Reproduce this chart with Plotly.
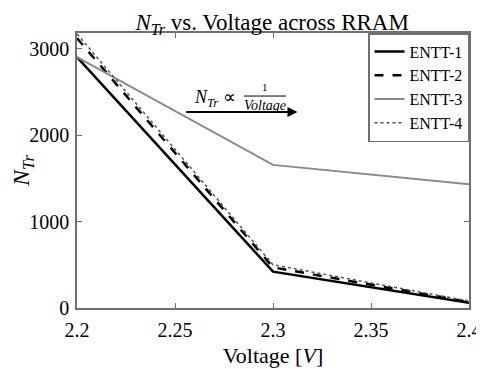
import plotly.graph_objects as go

voltage = [2.2, 2.3, 2.4]
entt1 = [2900, 420, 60]
entt2 = [3120, 470, 70]
entt3 = [2900, 1655, 1430]
entt4 = [3170, 500, 80]
x_ticks = [2.2, 2.25, 2.3, 2.35, 2.4]
x_tick_labels = ["2.2", "2.25", "2.3", "2.35", "2.4"]
y_ticks = [0, 1000, 2000, 3000]

FONT = "Liberation Serif"

fig = go.Figure()
fig.add_trace(go.Scatter(x=voltage, y=entt1, mode="lines", name="ENTT-1",
                         line=dict(color="black", width=2.5)))
fig.add_trace(go.Scatter(x=voltage, y=entt2, mode="lines", name="ENTT-2",
                         line=dict(color="black", width=2.5, dash="dash")))
fig.add_trace(go.Scatter(x=voltage, y=entt3, mode="lines", name="ENTT-3",
                         line=dict(color="#8a8a8a", width=2)))
fig.add_trace(go.Scatter(x=voltage, y=entt4, mode="lines", name="ENTT-4",
                         line=dict(color="#555555", width=1.5, dash="dot")))

axis_common = dict(showline=True, linecolor="#707070", linewidth=1.5, mirror="allticks",
                   ticks="inside", ticklen=5, tickcolor="#707070", showgrid=False,
                   zeroline=False, ticklabeloverflow="allow",
                   tickfont=dict(family=FONT, size=20, color="black"))

fig.update_xaxes(range=[2.2, 2.4], tickvals=x_ticks, ticktext=x_tick_labels,
                 ticklabelstandoff=3, automargin=False,
                 title=dict(text="Voltage [<i>V</i>]", font=dict(family=FONT, size=22, color="black"),
                            standoff=8),
                 **axis_common)
fig.update_yaxes(range=[0, 3180], tickvals=y_ticks, ticklabelstandoff=2, automargin=True,
                 title=dict(text="<i>N</i><sub><i>Tr</i></sub>", font=dict(family=FONT, size=24, color="black"),
                            standoff=9),
                 **axis_common)

# arrow annotation
fig.add_annotation(x=2.3125, y=2266, ax=2.255, ay=2266, xref="x", yref="y", axref="x", ayref="y",
                   text="", showarrow=True, arrowhead=2, arrowsize=1, arrowwidth=2, arrowcolor="black")
fig.add_annotation(x=2.2585, y=2420, xref="x", yref="y", xanchor="left", yanchor="middle",
                   text="<i>N</i><sub><i>Tr</i></sub> ∝", showarrow=False,
                   font=dict(family=FONT, size=18, color="black"))
fig.add_annotation(x=2.2959, y=2555, xref="x", yref="y", xanchor="center", yanchor="middle",
                   text="1", showarrow=False, font=dict(family=FONT, size=11, color="black"))
fig.add_annotation(x=2.2959, y=2345, xref="x", yref="y", xanchor="center", yanchor="middle",
                   text="<i>Voltage</i>", showarrow=False, font=dict(family=FONT, size=14, color="black"))
fig.add_shape(type="line", xref="x", yref="y", x0=2.2852, x1=2.3066, y0=2451, y1=2451,
              line=dict(color="black", width=1))

# page body has an 8px margin; figure sized/margined so the plot lands where the reference's does
fig.update_layout(
    width=476, height=361,
    margin=dict(l=69, r=15, t=25, b=61, autoexpand=False),
    font=dict(family=FONT, color="black"),
    paper_bgcolor="white", plot_bgcolor="white",
    title=dict(text="<i>N</i><sub><i>Tr</i></sub> vs. Voltage across RRAM", x=0.555, xanchor="center",
               y=0.962, yanchor="middle", font=dict(family=FONT, size=23, color="black")),
    legend=dict(x=1, y=1, xanchor="right", yanchor="top", bgcolor="white",
                bordercolor="#707070", borderwidth=1.5,
                font=dict(family=FONT, size=16, color="black"),
                itemwidth=30, tracegroupgap=0),
    showlegend=True,
)

fig.write_html("out.html")
